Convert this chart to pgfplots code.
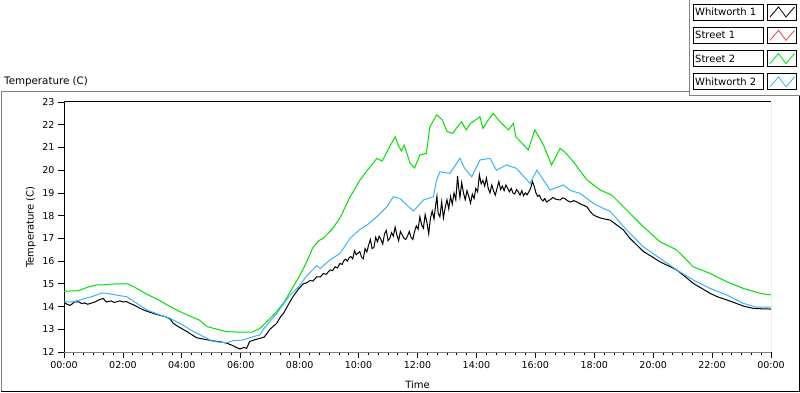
\documentclass[border=0pt]{standalone}
\usepackage{pgfplots}
\pgfplotsset{compat=1.18}
\usepackage{fontspec}
\setmainfont{DejaVu Sans}
\definecolor{sgreen}{RGB}{0,225,0}
\definecolor{wblue}{RGB}{60,180,245}
\definecolor{sred}{RGB}{240,60,60}
\definecolor{framegray}{RGB}{130,130,130}
\begin{document}
\begin{tikzpicture}
\begin{scope}[x=1bp,y=1bp]
\useasboundingbox (0,0) rectangle (800,392);
\fill[white] (0,0) rectangle (800,392);
% outer panel
\draw[framegray, line width=1bp] (1.5,1) -- (1.5,300.5) -- (689.5,300.5);
\draw[black, line width=1bp] (1,0.5) -- (799.5,0.5) -- (799.5,296.5);
% legend frame
\draw[framegray, line width=1bp] (689.5,392) -- (689.5,296.5) -- (800,296.5);
\node[anchor=west, inner sep=0pt, font=\fontsize{10.3bp}{12bp}\selectfont] at (4,310) {Temperature (C)};
% legend entries
\foreach \i/\lab/\col in {0/Whitworth 1/black,1/Street 1/sred,2/Street 2/sgreen,3/Whitworth 2/wblue}{
  \pgfmathsetmacro{\yt}{388-23.3*\i}
  \pgfmathsetmacro{\yb}{\yt-16}
  \draw[black, line width=0.8bp] (693.5,\yb) rectangle (763.5,\yt);
  \draw[black, line width=0.8bp] (767.5,\yb) rectangle (796.5,\yt);
  \node[anchor=west, inner sep=0pt, font=\fontsize{10bp}{12bp}\selectfont] at (695,\yt-8) {\lab};
  \draw[\col, line width=0.8bp] (770,\yb+3) -- (778.5,\yt-3) -- (786,\yb+3) -- (794.5,\yt-3);
}
\end{scope}
\begin{axis}[
  at={(64bp,40bp)}, anchor=south west, scale only axis, width=707bp, height=250bp,
  xmin=0, xmax=24, ymin=12, ymax=23,
  axis x line*=bottom, axis y line*=left,
  x axis line style={framegray, line width=1bp},
  y axis line style={black, line width=1bp},
  xtick={0,2,...,24},
  xticklabels={00:00,02:00,04:00,06:00,08:00,10:00,12:00,14:00,16:00,18:00,20:00,22:00,00:00},
  minor x tick num=5,
  ytick={12,13,...,23},
  tick align=outside,
  major tick length=6bp, minor tick length=3bp,
  every tick/.style={black, line width=0.8bp},
  /pgf/number format/assume math mode=true,
  ticklabel style={font=\fontsize{9.5bp}{11bp}\selectfont},
  xlabel={Time}, ylabel={Temperature (C)},
  every axis x label/.style={at={(axis description cs:0.5,-0.132)}, anchor=center, font=\fontsize{10bp}{12bp}\selectfont},
  every axis y label/.style={at={(axis description cs:-0.0467,0.5)}, anchor=center, rotate=90, font=\fontsize{10bp}{12bp}\selectfont},
  clip=true,
]
\draw[black, line width=1bp] (rel axis cs:0,1) -- (rel axis cs:1,1);
\draw[framegray, line width=1bp] (rel axis cs:1,0) -- (rel axis cs:1,1);
% Whitworth 1
\addplot[black, line width=1bp, mark=none] coordinates {
(0,14.21)(0.1,14.1)(0.2,14.05)(0.28,14.12)(0.35,14.2)(0.5,14.21)(0.6,14.13)(0.7,14.16)(0.8,14.1)(0.9,14.14)(1.05,14.2)(1.15,14.27)(1.2,14.3)(1.33,14.36)(1.4,14.25)(1.45,14.2)(1.6,14.25)(1.7,14.18)(1.79,14.21)(1.9,14.25)(2.0,14.2)(2.12,14.22)(2.24,14.14)(2.4,14.05)(2.58,13.92)(2.8,13.8)(3.03,13.7)(3.3,13.6)(3.45,13.55)(3.6,13.45)(3.71,13.26)(3.9,13.1)(4.17,12.9)(4.35,12.75)(4.5,12.63)(4.8,12.55)(5.07,12.49)(5.3,12.45)(5.52,12.39)(5.7,12.3)(5.85,12.2)(5.98,12.13)(6.1,12.2)(6.2,12.16)(6.3,12.46)(6.5,12.55)(6.65,12.6)(6.8,12.66)(6.99,13.0)(7.22,13.26)(7.35,13.55)(7.45,13.7)(7.6,14.05)(7.78,14.45)(7.95,14.75)(8.12,15.0)(8.25,15.05)(8.35,15.15)(8.45,15.12)(8.58,15.31)(8.7,15.3)(8.8,15.45)(8.9,15.42)(9.03,15.61)(9.12,15.58)(9.2,15.75)(9.28,15.7)(9.37,15.9)(9.44,15.85)
(9.50,16.02)(9.56,16.08)(9.62,16.0)(9.68,16.15)(9.74,16.2)(9.80,16.1)(9.86,16.45)(9.92,16.28)(9.98,16.35)(10.04,16.42)(10.10,16.18)(10.16,16.1)(10.22,16.55)(10.28,16.4)(10.34,16.7)(10.40,16.95)(10.46,16.55)(10.52,16.6)(10.58,17.05)(10.64,16.85)(10.70,17.1)(10.76,16.95)(10.82,16.75)(10.88,17.2)(10.94,17.35)(11.00,16.9)(11.06,17.0)(11.12,17.25)(11.18,17.1)(11.24,17.5)(11.30,17.15)(11.36,16.9)(11.42,17.3)(11.48,17.15)(11.54,17.0)(11.60,16.95)(11.66,17.1)(11.72,17.3)(11.78,17.05)(11.84,16.95)(11.90,17.3)(11.96,17.55)(12.02,17.4)(12.08,17.95)(12.14,17.6)(12.20,17.45)(12.26,18.05)(12.32,17.7)(12.38,17.2)(12.44,17.9)(12.50,18.2)(12.56,17.85)(12.62,18.5)(12.66,18.85)(12.70,18.1)(12.76,17.95)(12.82,18.6)(12.88,17.9)(12.94,18.35)(13.00,18.7)(13.06,18.3)(13.12,18.85)(13.18,18.5)(13.24,19.0)(13.30,18.7)(13.36,19.75)(13.40,19.2)(13.44,18.8)(13.50,19.45)(13.56,19.0)(13.62,18.7)(13.68,19.1)(13.74,18.85)(13.80,18.55)(13.86,18.95)(13.92,18.75)(13.98,19.2)(14.04,19.05)(14.10,19.8)(14.16,19.4)(14.22,19.55)(14.28,19.3)(14.34,19.65)(14.40,19.2)(14.46,19.0)(14.52,19.35)(14.58,19.1)(14.64,18.9)(14.70,19.2)(14.76,19.5)(14.82,19.15)(14.88,19.3)(14.94,19.1)(15.00,19.35)(15.06,19.2)(15.12,19.05)(15.18,19.2)(15.24,19.0)(15.30,18.95)(15.36,19.15)(15.42,19.05)(15.48,18.9)(15.54,19.1)(15.60,18.88)(15.66,19.0)(15.72,18.92)(15.78,19.05)(15.84,19.2)(15.90,19.5)(15.96,19.3)(16.02,19.0)(16.08,18.85)(16.14,18.9)(16.20,18.72)(16.26,18.65)(16.32,18.75)(16.38,18.6)
(16.5,18.7)(16.6,18.8)(16.7,18.72)(16.84,18.69)(16.92,18.78)(17.0,18.75)(17.1,18.65)(17.2,18.6)(17.3,18.66)(17.4,18.61)(17.55,18.5)(17.65,18.45)(17.75,18.39)(17.85,18.2)(17.97,18.03)(18.1,17.95)(18.2,17.9)(18.35,17.85)(18.53,17.81)(18.65,17.7)(18.75,17.6)(18.99,17.37)(19.21,17.0)(19.45,16.7)(19.67,16.42)(19.95,16.2)(20.23,15.97)(20.5,15.8)(20.8,15.61)(21.1,15.3)(21.36,15.02)(21.65,14.8)(21.93,14.58)(22.2,14.42)(22.5,14.29)(22.8,14.15)(23.06,14.02)(23.4,13.92)(23.7,13.9)(24,13.89)
};
% Street 2
\addplot[sgreen, line width=1bp, mark=none] coordinates {
(0,14.67)(0.5,14.7)(0.8,14.85)(1.1,14.95)(1.3,14.95)(1.5,14.98)(1.8,15.0)(2.15,15.0)(2.4,14.85)(2.8,14.55)(3.2,14.3)(3.5,14.07)(3.9,13.8)(4.2,13.62)(4.6,13.4)(4.85,13.12)(5.2,13.0)(5.5,12.9)(6.0,12.87)(6.4,12.88)(6.65,13.04)(6.9,13.35)(7.2,13.75)(7.45,14.15)(7.7,14.7)(8.0,15.35)(8.25,16.0)(8.45,16.6)(8.65,16.9)(8.8,17.0)(9.1,17.4)(9.37,17.9)(9.7,18.8)(10.05,19.57)(10.3,20.0)(10.62,20.52)(10.8,20.4)(11.0,20.9)(11.24,21.47)(11.35,21.1)(11.45,20.85)(11.55,21.1)(11.75,20.3)(11.9,20.1)(12.08,20.67)(12.3,20.74)(12.42,21.91)(12.65,22.43)(12.85,22.2)(13.0,21.7)(13.2,21.62)(13.35,21.9)(13.5,22.13)(13.65,21.77)(13.8,22.06)(14.12,22.35)(14.22,21.84)(14.4,22.2)(14.57,22.5)(14.8,22.13)(15.09,21.77)(15.25,22.06)(15.34,21.47)(15.76,20.89)(15.98,21.77)(16.25,21.18)(16.55,20.23)(16.84,20.96)(17.0,20.8)(17.29,20.37)(17.75,19.57)(18.2,19.13)(18.6,18.9)(19.1,18.25)(19.67,17.51)(20.23,16.85)(20.8,16.49)(21.36,15.75)(21.93,15.46)(22.5,15.09)(23.06,14.8)(23.63,14.58)(24,14.51)
};
% Whitworth 2
\addplot[wblue, line width=1bp, mark=none] coordinates {
(0,14.21)(0.3,14.21)(0.54,14.29)(1.0,14.46)(1.3,14.6)(1.45,14.58)(1.8,14.5)(2.13,14.43)(2.47,14.14)(2.81,13.85)(3.26,13.63)(3.6,13.48)(3.94,13.26)(4.39,12.9)(4.73,12.68)(5.07,12.46)(5.52,12.41)(5.75,12.5)(6.09,12.53)(6.43,12.68)(6.65,12.75)(6.77,13.0)(7.22,13.7)(7.67,14.5)(7.95,14.85)(8.24,15.35)(8.58,15.8)(8.7,15.68)(9.03,16.05)(9.37,16.34)(9.71,17.0)(10.05,17.4)(10.3,17.6)(10.62,17.95)(10.96,18.39)(11.18,18.83)(11.4,18.76)(11.86,18.2)(12.2,18.69)(12.54,18.83)(12.65,19.57)(12.76,19.93)(13.1,19.86)(13.44,20.52)(13.6,20.08)(13.84,19.71)(14.12,20.45)(14.46,20.52)(14.68,20.0)(15.02,20.23)(15.36,20.08)(15.82,19.42)(16.05,20.0)(16.5,19.13)(16.95,19.35)(17.2,19.1)(17.52,18.98)(17.97,18.54)(18.3,18.32)(18.53,18.2)(19.1,17.37)(19.67,16.63)(20.23,16.12)(20.8,15.61)(21.36,15.17)(21.93,14.8)(22.5,14.51)(23.06,14.14)(23.5,13.98)(24,13.97)
};
\end{axis}
\end{tikzpicture}
\end{document}
